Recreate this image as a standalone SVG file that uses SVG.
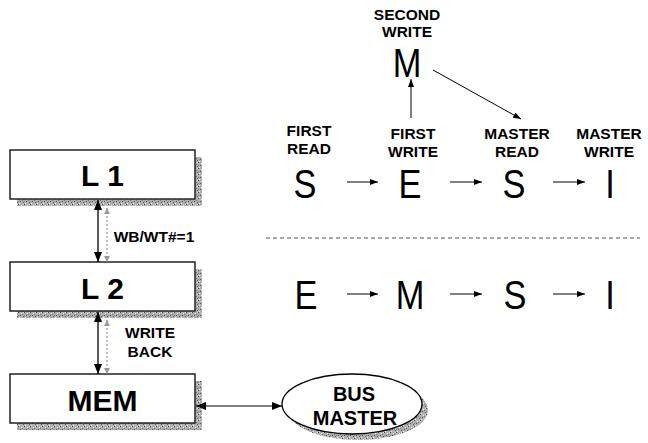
<svg xmlns="http://www.w3.org/2000/svg" width="648" height="443" viewBox="0 0 648 443">
  <style>
    .box { fill: #fff; stroke: #222; stroke-width: 1.5; }
    .shadow { fill: url(#stipple); }
    .big { font-family: "Liberation Sans", Arial, sans-serif; font-weight: bold; font-size: 30px; text-anchor: middle; fill: #000; }
    .lbl { font-family: "Liberation Sans", Arial, sans-serif; font-weight: bold; font-size: 15.5px; text-anchor: middle; fill: #000; }
    .bus { font-family: "Liberation Sans", Arial, sans-serif; font-weight: bold; font-size: 20px; text-anchor: middle; fill: #000; }
    .st { font-family: "Liberation Sans", Arial, sans-serif; font-size: 40px; text-anchor: middle; fill: #000; }
    .solid { stroke: #000; stroke-width: 1.3; fill: none; }
    .thin { stroke: #000; stroke-width: 1; fill: none; }
    .dot { stroke: #888; stroke-width: 1; stroke-dasharray: 2 2; fill: none; }
    .sep { stroke: #555; stroke-width: 1; stroke-dasharray: 4 3; fill: none; }
  </style>
  <defs>
    <pattern id="stipple" width="6" height="6" patternUnits="userSpaceOnUse">
      <rect width="6" height="6" fill="#b0b0b0"/>
      <rect x="0" y="0" width="1" height="1" fill="#444"/>
      <rect x="3" y="1" width="1" height="1" fill="#fff"/>
      <rect x="2" y="3" width="1" height="1" fill="#505050"/>
      <rect x="5" y="4" width="1" height="1" fill="#606060"/>
      <rect x="1" y="5" width="1" height="1" fill="#eee"/>
      <rect x="4" y="2" width="1" height="1" fill="#777"/>
      <rect x="5" y="0" width="1" height="1" fill="#ddd"/>
      <rect x="0" y="3" width="1" height="1" fill="#888"/>
    </pattern>
    <marker id="ahBig" viewBox="0 0 10 8" refX="10" refY="4" markerWidth="10" markerHeight="8" markerUnits="userSpaceOnUse" orient="auto-start-reverse">
      <path d="M0,0 L10,4 L0,8 z" fill="#000"/>
    </marker>
    <marker id="ahSmall" viewBox="0 0 8 6" refX="8" refY="3" markerWidth="8" markerHeight="6" markerUnits="userSpaceOnUse" orient="auto-start-reverse">
      <path d="M0,0 L8,3 L0,6 z" fill="#000"/>
    </marker>
    <marker id="ahGray" viewBox="0 0 6 6" refX="6" refY="3" markerWidth="6" markerHeight="6" markerUnits="userSpaceOnUse" orient="auto-start-reverse">
      <path d="M0,0 L6,3 L0,6 z" fill="#999"/>
    </marker>
  </defs>

  <!-- cache hierarchy -->
  <g id="l1">
    <rect class="shadow" x="17" y="157" width="185" height="49"/>
    <rect class="box" x="10" y="150" width="185" height="49"/>
    <text class="big" x="102.5" y="186">L 1</text>
  </g>
  <g id="l2">
    <rect class="shadow" x="17" y="269" width="185" height="49"/>
    <rect class="box" x="10" y="262" width="185" height="49"/>
    <text class="big" x="102.5" y="299">L 2</text>
  </g>
  <g id="mem">
    <rect class="shadow" x="17" y="381" width="185" height="49"/>
    <rect class="box" x="10" y="374" width="185" height="49"/>
    <text class="big" x="102.5" y="411">MEM</text>
  </g>
  <g id="bus-master">
    <ellipse class="shadow" cx="358" cy="410" rx="70" ry="30"/>
    <ellipse cx="352" cy="404" rx="70" ry="30" fill="#fff" stroke="#000" stroke-width="1.3"/>
    <text class="bus" x="354" y="401">BUS</text>
    <text class="bus" x="355" y="425">MASTER</text>
  </g>

  <!-- link labels -->
  <g id="link-labels">
    <text class="lbl" x="154" y="242">WB/WT#=1</text>
    <text class="lbl" x="150" y="338">WRITE</text>
    <text class="lbl" x="150" y="357">BACK</text>
  </g>

  <!-- state sequence: read/write events -->
  <g id="states-top">
    <text class="lbl" x="309" y="136">FIRST</text>
    <text class="lbl" x="309" y="154">READ</text>
    <text class="st" transform="translate(305 198) scale(0.86 1)">S</text>
    <text class="lbl" x="413" y="139">FIRST</text>
    <text class="lbl" x="413" y="157">WRITE</text>
    <text class="st" transform="translate(410 198) scale(0.86 1)">E</text>
    <text class="lbl" x="517" y="139">MASTER</text>
    <text class="lbl" x="517" y="157">READ</text>
    <text class="st" transform="translate(514 198) scale(0.86 1)">S</text>
    <text class="lbl" x="609" y="139">MASTER</text>
    <text class="lbl" x="609" y="157">WRITE</text>
    <text class="st" transform="translate(610 198) scale(0.86 1)">I</text>
    <text class="lbl" x="407" y="20">SECOND</text>
    <text class="lbl" x="407" y="37">WRITE</text>
    <text class="st" transform="translate(407 77) scale(0.86 1)">M</text>
  </g>

  <!-- write-back state sequence -->
  <g id="states-bottom">
    <text class="st" transform="translate(306 309) scale(0.86 1)">E</text>
    <text class="st" transform="translate(410 309) scale(0.86 1)">M</text>
    <text class="st" transform="translate(515 309) scale(0.86 1)">S</text>
    <text class="st" transform="translate(610 309) scale(0.86 1)">I</text>
  </g>

  <g id="connectors">
    <!-- L1 <-> L2 -->
    <line class="solid" x1="98" y1="200" x2="98" y2="262" marker-start="url(#ahBig)" marker-end="url(#ahBig)"/>
    <line class="dot" x1="107" y1="208" x2="107" y2="262" marker-start="url(#ahGray)" marker-end="url(#ahGray)"/>
    <!-- L2 <-> MEM -->
    <line class="solid" x1="98" y1="312" x2="98" y2="374" marker-start="url(#ahBig)" marker-end="url(#ahBig)"/>
    <line class="dot" x1="107" y1="320" x2="107" y2="374" marker-start="url(#ahGray)" marker-end="url(#ahGray)"/>
    <!-- MEM <-> bus master -->
    <line class="thin" x1="196" y1="406" x2="282" y2="406" marker-start="url(#ahBig)" marker-end="url(#ahBig)"/>

    <!-- top row transitions -->
    <line class="thin" x1="347" y1="182" x2="378" y2="182" marker-end="url(#ahSmall)"/>
    <line class="thin" x1="450" y1="182" x2="482" y2="182" marker-end="url(#ahSmall)"/>
    <line class="thin" x1="553" y1="182" x2="585" y2="182" marker-end="url(#ahSmall)"/>
    <line class="thin" x1="411" y1="118" x2="411" y2="79" marker-end="url(#ahSmall)"/>
    <line class="thin" x1="433" y1="70" x2="521" y2="119" marker-end="url(#ahSmall)"/>

    <!-- separator -->
    <line class="sep" x1="266" y1="238" x2="640" y2="238"/>

    <!-- bottom row transitions -->
    <line class="thin" x1="347" y1="294" x2="378" y2="294" marker-end="url(#ahSmall)"/>
    <line class="thin" x1="450" y1="294" x2="482" y2="294" marker-end="url(#ahSmall)"/>
    <line class="thin" x1="553" y1="294" x2="585" y2="294" marker-end="url(#ahSmall)"/>
  </g>
</svg>
